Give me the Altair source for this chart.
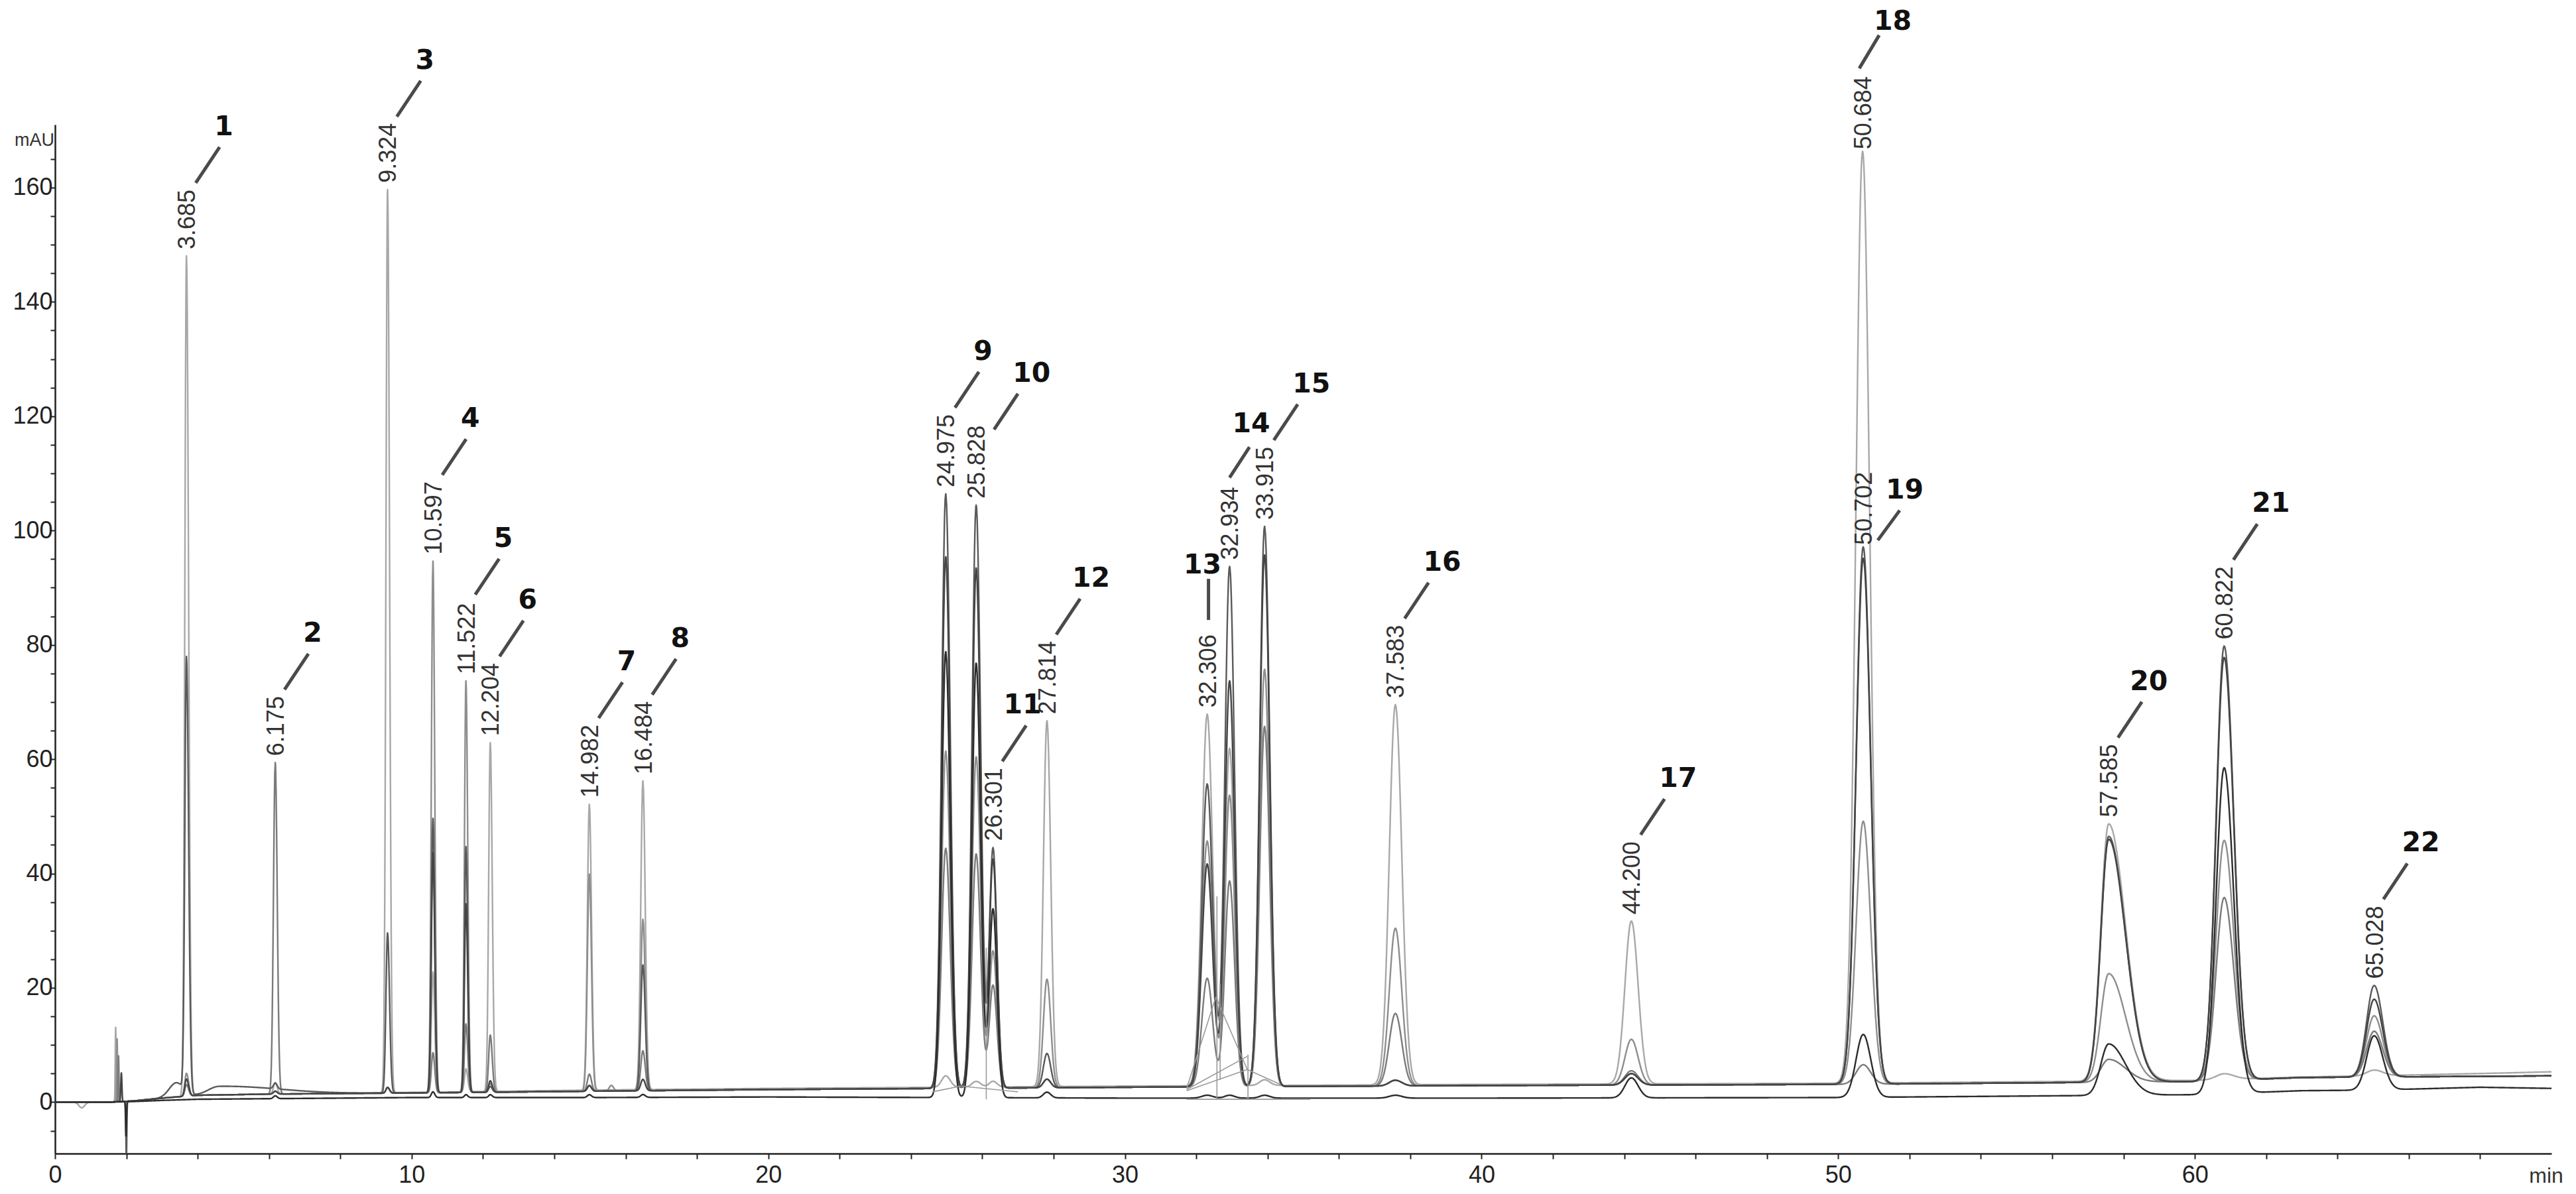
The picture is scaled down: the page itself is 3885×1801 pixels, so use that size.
import numpy as np
import pandas as pd
import altair as alt

# ---------------- data ----------------
trace_names = ["A", "B", "C", "D", "E", "F"]
trace_colors = ["#a8a8a8", "#8e8e8e", "#7b7b7b", "#5a5a5a", "#444444", "#2c2c2c"]
trace_widths = [2.4, 2.4, 2.4, 2.8, 2.8, 2.6]

peak_no = list(range(1, 23))
peak_rt = [3.685, 6.175, 9.324, 10.597, 11.522, 12.204, 14.982, 16.484, 24.975, 25.828, 26.301,
           27.814, 32.306, 32.934, 33.915, 37.583, 44.200, 50.684, 50.702, 57.585, 60.822, 65.028]
peak_label = ["3.685", "6.175", "9.324", "10.597", "11.522", "12.204", "14.982", "16.484", "24.975",
              "25.828", "26.301", "27.814", "32.306", "32.934", "33.915", "37.583", "44.200", "50.684",
              "50.702", "57.585", "60.822", "65.028"]
sig_left = [0.045, 0.05, 0.045, 0.045, 0.042, 0.045, 0.055, 0.06, 0.115, 0.115, 0.105, 0.10, 0.15,
            0.133, 0.136, 0.17, 0.18, 0.19, 0.20, 0.22, 0.225, 0.21]
sig_right = [0.06, 0.055, 0.055, 0.05, 0.05, 0.055, 0.06, 0.065, 0.125, 0.125, 0.11, 0.105, 0.155,
             0.14, 0.145, 0.18, 0.19, 0.20, 0.21, 0.47, 0.27, 0.24]

h_A = [147, 2, 158, 21, 4, 61, 50, 54, 2, 1, 1, 64, 65, 59, 1, 66.5, 28.5, 163, 0, 45, 1, 1]
h_B = [4, 0.5, 1, 93, 72, 1.5, 38, 30, 59, 58, 24, 19, 43, 51, 73, 27.6, 8, 0, 46, 19, 42, 10.7]
h_C = [2, 58, 1, 7, 12, 10, 3, 7, 42, 41, 18, 1.5, 19, 36, 63, 12.7, 2.5, 0, 3.4, 4, 32, 8]
h_D = [76, 1, 28, 48, 43, 1, 1, 22, 104, 102, 42, 6, 53, 91, 98, 1, 2, 0, 94, 43, 76, 16]
h_E = [3, 0.5, 1, 42, 33, 2, 1, 2, 93, 91, 40, 1.5, 39, 71, 93, 1, 2, 0, 92, 42.5, 74, 13.6]
h_F = [0, 0.5, 0, 1, 0.5, 0.5, 0.5, 0.5, 78, 76, 33, 1, 0.5, 0.5, 0.5, 0.5, 3.5, 0, 11, 9, 57, 9.5]
heights = {"A": h_A, "B": h_B, "C": h_C, "D": h_D, "E": h_E, "F": h_F}

# small unlabelled events (injection disturbance, humps)
extra_trace = ["A", "B", "C", "D", "E", "F", "D", "D", "A", "B"]
extra_t = [1.70, 1.74, 1.78, 2.00, 1.86, 1.99, 4.6, 3.4, 0.75, 15.6]
extra_sl = [0.012, 0.012, 0.012, 0.012, 0.015, 0.012, 0.3, 0.2, 0.08, 0.06]
extra_sr = [0.012, 0.012, 0.012, 0.012, 0.015, 0.012, 1.6, 0.2, 0.08, 0.06]
extra_h = [13, 11, 8, -10, 5, -6, 1.5, 2.5, -1, 1]

# baselines
base_t = [0, 1.5, 2.2, 3.0, 4.0, 6, 10, 15, 20, 30, 40, 50, 60, 63, 65, 68, 70]
base_up = [0, 0, 0.2, 0.7, 1.2, 1.4, 1.6, 1.9, 2.2, 2.6, 2.9, 3.1, 3.6, 4.3, 4.4, 4.5, 4.6]
base_A = [0, 0, 0.2, 0.7, 1.2, 1.4, 1.7, 2.1, 2.4, 2.8, 3.1, 3.3, 3.8, 4.4, 4.6, 5.0, 5.3]
base_F = [0, 0, 0.1, 0.3, 0.5, 0.6, 0.8, 0.8, 0.9, 0.7, 0.7, 0.8, 1.3, 2.0, 2.1, 2.6, 2.4]
baselines = {"A": base_A, "B": base_up, "C": base_up, "D": base_up, "E": base_up, "F": base_F}

# integration baseline / drop lines
int_x1 = [26.112, 32.58, 32.67, 33.45, 31.73, 32.55, 31.73, 31.73, 33.43, 31.73, 24.6, 25.4]
int_y1 = [0.5, 0.5, 3.9, 0.5, 2.4, 18.4, 2.2, 2.0, 5.7, 0.5, 1.8, 2.8]
int_x2 = [26.112, 32.58, 32.67, 33.45, 32.55, 33.43, 33.43, 33.43, 34.36, 35.2, 25.4, 27.0]
int_y2 = [27, 36, 20.7, 8.3, 18.4, 5.7, 8.0, 5.7, 3.1, 0.5, 2.8, 1.8]

# ---------------- geometry ----------------
W, H = 3765, 1552
XMAX, YMIN, YMAX = 70.0, -9.0, 171.0
pxt = W / XMAX
pxv = H / (YMAX - YMIN)
RT_FS = 36     # retention-time label font size
NUM_FS = 41    # peak number font size


def asym(t, c, sl, sr, h):
    s = np.where(t < c, sl, sr)
    return h * np.exp(-0.5 * ((t - c) / s) ** 2)


grid = [np.arange(0, XMAX + 1e-9, 0.02)]
for c, sl, sr in list(zip(peak_rt, sig_left, sig_right)) + list(zip(extra_t, extra_sl, extra_sr)):
    grid.append(np.arange(c - 6 * sl, c + 6 * sr, min(sl, sr) / 4))
tg = np.unique(np.round(np.clip(np.concatenate(grid), 0, XMAX), 4))


def signal(name, t):
    v = np.interp(t, base_t, baselines[name]).astype(float)
    for c, sl, sr, h in zip(peak_rt, sig_left, sig_right, heights[name]):
        if h:
            v = v + asym(t, c, sl, sr, h)
    for tr, c, sl, sr, h in zip(extra_trace, extra_t, extra_sl, extra_sr, extra_h):
        if tr == name:
            v = v + asym(t, c, sl, sr, h)
    return v


frames = []
for i, name in enumerate(trace_names):
    frames.append(pd.DataFrame({"t": tg, "v": np.round(signal(name, tg), 3), "trace": name}))
df = pd.concat(frames, ignore_index=True)

# ---------------- annotations ----------------
ov = {
    10: dict(ldx0=25, lgap=-6),
    13: dict(ldx0=0, lgap=22, vx=0, vy=-62, nx=-9, ny=-8, nalign="center"),
    14: dict(ldx0=-2, lgap=14, vx=30, vy=-46, nx=-26, ny=-22),
    18: dict(gap=3, ldx0=-7, lgap=12, vx=30, vy=-50, ny=-8),
    19: dict(gap=3, from_bottom=True, ldx0=20, vx=33, vy=-45, nx=-21),
    11: dict(nx=-34),
    20: dict(nx=-18),
    12: dict(nx=-12),
}
rows = []
for k, (n, rt, lab) in enumerate(zip(peak_no, peak_rt, peak_label)):
    hs = [heights[nm][k] for nm in trace_names]
    tr = trace_names[int(np.argmax(hs))]
    vap = float(signal(tr, np.array([rt]))[0])
    o = dict(gap=10, ldx0=12, lgap=10, vx=36, vy=-54, nx=-8, ny=-18, nalign="left", from_bottom=False)
    o.update(ov.get(n, {}))
    X = rt * pxt + 2
    Y = (YMAX - vap) * pxv - o["gap"]
    L = RT_FS * (0.556 * sum(ch.isdigit() for ch in lab) + 0.278)
    lx1 = X + o["ldx0"]
    ly1 = (Y - 7) if o["from_bottom"] else (Y - L - o["lgap"])
    lx2 = lx1 + o["vx"]
    ly2 = ly1 + o["vy"]
    nxp = lx2 + o["nx"]
    nyp = ly2 + o["ny"]
    rows.append(dict(
        no=str(n), label=lab,
        tt=X / pxt, tv=YMAX - Y / pxv,
        lx1=lx1 / pxt, ly1=YMAX - ly1 / pxv, lx2=lx2 / pxt, ly2=YMAX - ly2 / pxv,
        nx=nxp / pxt, ny=YMAX - nyp / pxv, nalign=o["nalign"],
    ))
ann = pd.DataFrame(rows)
int_df = pd.DataFrame({"x1": int_x1, "y1": int_y1, "x2": int_x2, "y2": int_y2})

xs = alt.Scale(domain=[0, XMAX], nice=False, zero=False)
ys = alt.Scale(domain=[YMIN, YMAX], nice=False, zero=False)

x_axis = alt.Axis(
    values=list(range(0, 70, 2)), labelExpr="datum.value % 10 == 0 ? datum.label : ''", format="d",
    title=None, grid=False, domainColor="#222222", domainWidth=2.5, tickColor="#222222", tickWidth=2,
    tickSize=8, labelFont="Liberation Sans", labelFontSize=36, labelColor="#222222", labelPadding=7,
    labelFlush=False, labelOverlap=False,
)
y_axis = alt.Axis(
    values=list(range(-5, 170, 5)), labelExpr="datum.value % 20 == 0 ? datum.label : ''", format="d",
    title=None, grid=False, domainColor="#222222", domainWidth=2.5, tickColor="#222222", tickWidth=2,
    tickSize=7, labelFont="Liberation Sans", labelFontSize=36, labelColor="#222222", labelPadding=-3,
    labelOverlap=False,
)


def X_(f):
    return alt.X(f, type="quantitative", scale=xs, axis=x_axis, title=None)


def Y_(f):
    return alt.Y(f, type="quantitative", scale=ys, axis=y_axis, title=None)


lines = alt.Chart(df).mark_line(clip=True, strokeJoin="round").encode(
    x=X_("t"),
    y=Y_("v"),
    color=alt.Color("trace:N", scale=alt.Scale(domain=trace_names, range=trace_colors), legend=None),
    strokeWidth=alt.StrokeWidth("trace:N", scale=alt.Scale(domain=trace_names, range=trace_widths), legend=None),
    order=alt.Order("t:Q"),
)

integ = alt.Chart(int_df).mark_rule(color="#9a9a9a", strokeWidth=1.6).encode(
    x=X_("x1"), y=Y_("y1"), x2="x2:Q", y2="y2:Q",
)

leaders = alt.Chart(ann).mark_rule(color="#4a4a4a", strokeWidth=5).encode(
    x=X_("lx1"), y=Y_("ly1"), x2="lx2:Q", y2="ly2:Q",
)

rt_text = alt.Chart(ann).mark_text(
    angle=270, align="left", baseline="middle", font="Liberation Sans",
    fontSize=RT_FS, color="#333333",
).encode(x=X_("tt"), y=Y_("tv"), text="label:N")

num_left = alt.Chart(ann[ann.nalign == "left"]).mark_text(
    align="left", baseline="alphabetic", font="DejaVu Sans", fontWeight="bold", fontSize=NUM_FS, color="#111111",
).encode(x=X_("nx"), y=Y_("ny"), text="no:N")

num_center = alt.Chart(ann[ann.nalign == "center"]).mark_text(
    align="center", baseline="alphabetic", font="DejaVu Sans", fontWeight="bold", fontSize=NUM_FS, color="#111111",
).encode(x=X_("nx"), y=Y_("ny"), text="no:N")

mau = alt.Chart(pd.DataFrame({"s": ["mAU"]})).mark_text(
    align="right", baseline="middle", font="Liberation Sans", fontSize=27, color="#333333",
).encode(x=alt.value(-1), y=alt.value(24), text="s:N")

minl = alt.Chart(pd.DataFrame({"s": ["min"]})).mark_text(
    align="center", baseline="middle", font="Liberation Sans", fontSize=32, color="#333333",
).encode(x=alt.value(W - 8), y=alt.value(H + 34), text="s:N")

chart = alt.layer(lines, integ, leaders, rt_text, num_left, num_center, mau, minl).properties(
    width=W, height=H,
    padding={"left": 75, "top": 180, "right": 25, "bottom": 53},
    autosize=alt.AutoSizeParams(type="none"),
    background="white",
).configure_view(stroke=None)

chart.save("out.html", embed_options={"renderer": "svg", "actions": False})
